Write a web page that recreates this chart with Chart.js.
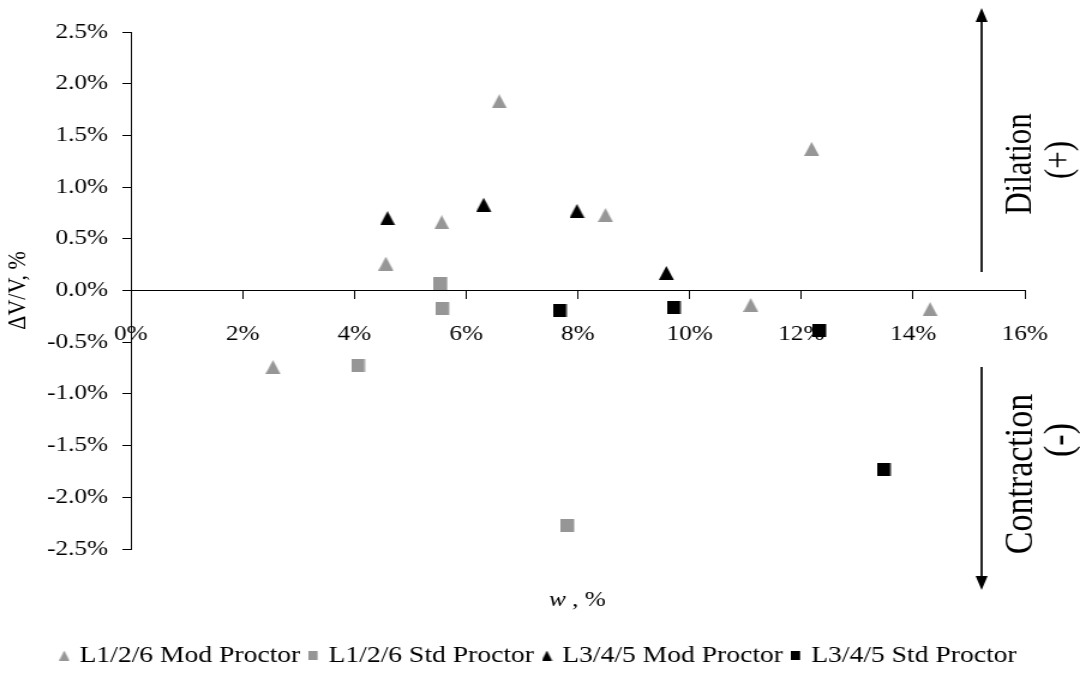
<!DOCTYPE html>
<html>
<head>
<meta charset="utf-8">
<script src="https://cdn.jsdelivr.net/npm/chart.js@4/dist/chart.umd.min.js"></script>
<style>
  html, body { margin: 0; padding: 0; background: #fff; overflow: hidden; }
  #wrap { width: 900px; height: 680px; transform: scaleX(1.2); transform-origin: 0 0; }
</style>
</head>
<body>
<div id="wrap"><canvas id="grafico" width="900" height="680"></canvas></div>
<script>
// w (%) and dV/V (%)
const modL126X = [2.55, 4.57, 5.57, 6.60, 8.50, 11.10, 12.19, 14.31];
const modL126Y = [-0.74, 0.26, 0.66, 1.83, 0.73, -0.14, 1.37, -0.18];
const stdL126X = [4.07, 5.55, 5.58, 7.82];
const stdL126Y = [-0.73, 0.07, -0.17, -2.27];
const modL345X = [4.60, 6.32, 7.99, 9.59];
const modL345Y = [0.70, 0.83, 0.77, 0.17];
const stdL345X = [7.68, 9.72, 12.33, 13.48];
const stdL345Y = [-0.19, -0.16, -0.39, -1.73];

const seriesNames = ['L1/2/6 Mod Proctor', 'L1/2/6 Std Proctor', 'L3/4/5 Mod Proctor', 'L3/4/5 Std Proctor'];
const xTicks = [0, 2, 4, 6, 8, 10, 12, 14, 16];
const yTicks = [-2.5, -2.0, -1.5, -1.0, -0.5, 0.0, 0.5, 1.0, 1.5, 2.0, 2.5];

const GRAY = '#969696';
const SERIF = '"Liberation Serif", "Times New Roman", serif';

// text in the picture is wide, so the canvas is stretched sideways (see #wrap);
// marker images are drawn narrower so they still come out square
function marker(shape, w, h, color) {
  const c = document.createElement('canvas');
  c.width = Math.ceil(w); c.height = Math.ceil(h);
  const g = c.getContext('2d');
  g.fillStyle = color;
  if (shape === 'tri') {
    g.beginPath();
    g.moveTo(0, h); g.lineTo(w / 2, 0); g.lineTo(w, h);
    g.closePath(); g.fill();
  } else {
    g.fillRect(0, 0, w, h);
  }
  return c;
}

const pts = (xs, ys) => xs.map((x, i) => ({x: x, y: ys[i]}));

const bigMarkers = [
  marker('tri', 12.5, 14, GRAY),
  marker('sq', 11.4, 13, GRAY),
  marker('tri', 12.5, 14, '#000'),
  marker('sq', 11.4, 13, '#000')
];
const smallMarkers = [
  marker('tri', 8.5, 10, GRAY),
  marker('sq', 7.5, 9, GRAY),
  marker('tri', 8.5, 10, '#000'),
  marker('sq', 7.5, 9, '#000')
];

const setas = {
  id: 'setas',
  afterDraw(chart) {
    const {ctx, chartArea: a} = chart;
    const ax = a.right - 36;
    ctx.save();
    ctx.strokeStyle = '#000';
    ctx.fillStyle = '#000';
    ctx.lineWidth = 1.7;
    ctx.beginPath();
    ctx.moveTo(ax, 272); ctx.lineTo(ax, 20);
    ctx.moveTo(ax, 367); ctx.lineTo(ax, 578);
    ctx.stroke();
    ctx.beginPath();
    ctx.moveTo(ax, 8); ctx.lineTo(ax - 5, 22); ctx.lineTo(ax + 5, 22); ctx.closePath();
    ctx.moveTo(ax, 590); ctx.lineTo(ax - 5, 576); ctx.lineTo(ax + 5, 576); ctx.closePath();
    ctx.fill();

    ctx.textAlign = 'center';
    ctx.textBaseline = 'middle';
    const rot = (txt, x, y) => {
      ctx.save(); ctx.translate(x, y); ctx.rotate(-Math.PI / 2); ctx.fillText(txt, 0, 0); ctx.restore();
    };
    ctx.font = '31px ' + SERIF;
    rot('Dilation', a.right - 3, 164);
    rot('(+)', a.right + 30, 160);
    ctx.font = '34px ' + SERIF;
    rot('Contraction', a.right - 3, 474);
    rot('(-)', a.right + 30, 440);

    // x axis title, "w" in italics
    const it = 'italic 21px ' + SERIF, rg = '21px ' + SERIF;
    ctx.font = it; const w1 = ctx.measureText('w').width;
    ctx.font = rg; const w2 = ctx.measureText(' , %').width;
    const x0 = 481 - (w1 + w2) / 2;
    ctx.textAlign = 'left';
    ctx.font = it; ctx.fillText('w', x0, 600);
    ctx.font = rg; ctx.fillText(' , %', x0 + w1, 600);
    ctx.restore();
  }
};

const ctxGraf = document.getElementById('grafico').getContext('2d');

new Chart(ctxGraf, {
  type: 'scatter',
  data: {
    datasets: [
      {label: seriesNames[0], data: pts(modL126X, modL126Y), pointStyle: bigMarkers[0], backgroundColor: GRAY, borderColor: GRAY},
      {label: seriesNames[1], data: pts(stdL126X, stdL126Y), pointStyle: bigMarkers[1], backgroundColor: GRAY, borderColor: GRAY},
      {label: seriesNames[2], data: pts(modL345X, modL345Y), pointStyle: bigMarkers[2], backgroundColor: '#000', borderColor: '#000'},
      {label: seriesNames[3], data: pts(stdL345X, stdL345Y), pointStyle: bigMarkers[3], backgroundColor: '#000', borderColor: '#000'}
    ]
  },
  options: {
    responsive: false,
    animation: false,
    layout: { padding: { left: 0, right: 0, top: 32, bottom: 3 } },
    scales: {
      x: {
        type: 'linear',
        position: { y: 0 },
        min: 0, max: 16,
        afterBuildTicks: (s) => { s.ticks = xTicks.map(v => ({value: v})); },
        ticks: {
          callback: (v) => v + '%',
          color: '#000',
          font: { family: SERIF, size: 21 },
          padding: 23,
          maxRotation: 0
        },
        grid: { drawOnChartArea: false, drawTicks: true, tickLength: 8, color: '#000' },
        border: { color: '#000', width: 1 }
      },
      y: {
        min: -2.5, max: 2.5,
        afterBuildTicks: (s) => { s.ticks = yTicks.map(v => ({value: v})); },
        afterFit: (s) => { s.width = 109; },
        ticks: {
          callback: (v) => v.toFixed(1) + '%',
          color: '#000',
          font: { family: SERIF, size: 21 },
          padding: 12
        },
        grid: { drawOnChartArea: false, drawTicks: true, tickLength: 7, color: '#000' },
        border: { color: '#000', width: 1 },
        title: {
          display: true,
          text: '\u0394V/V, %',
          color: '#000',
          font: { family: SERIF, size: 22 },
          padding: { top: 2, bottom: 0 }
        }
      },
      // empty right-hand strip where the arrows and their labels sit
      margemDireita: {
        position: 'right',
        min: -2.5, max: 2.5,
        afterFit: (s) => { s.width = 46; },
        ticks: { display: false },
        grid: { display: false },
        border: { display: false }
      }
    },
    plugins: {
      title: {
        display: true,
        position: 'bottom',
        weight: 500,
        text: ' ',
        font: { size: 10, lineHeight: 1 },
        padding: { top: 75, bottom: 0 }
      },
      legend: {
        position: 'bottom',
        labels: {
          usePointStyle: true,
          boxWidth: 2,
          padding: 10,
          color: '#000',
          font: { family: SERIF, size: 23 },
          generateLabels: function(chart) {
            const items = Chart.defaults.plugins.legend.labels.generateLabels(chart);
            items.forEach((it, i) => { it.pointStyle = smallMarkers[i]; });
            return items;
          }
        }
      },
      tooltip: { enabled: false }
    }
  },
  plugins: [setas]
});
</script>
</body>
</html>
